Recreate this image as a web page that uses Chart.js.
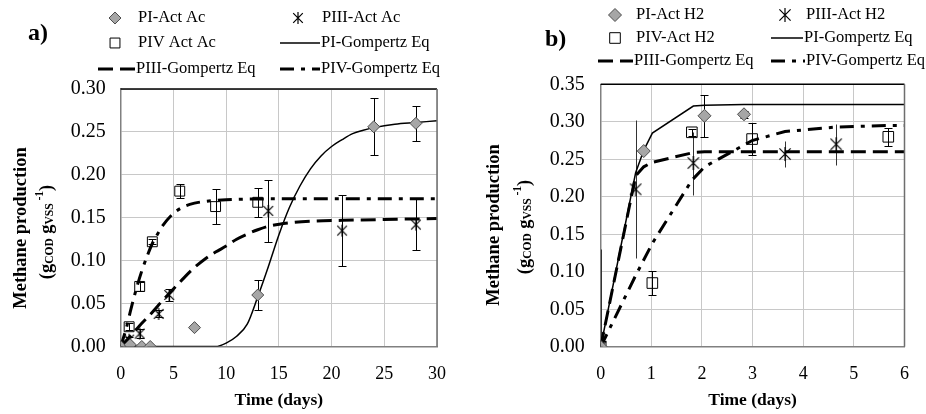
<!DOCTYPE html>
<html>
<head>
<meta charset="utf-8">
<script src="https://cdn.jsdelivr.net/npm/chart.js@4.4.1/dist/chart.umd.min.js"></script>
<style>
  html, body { margin: 0; padding: 0; background: #fff; }
  #wrap { position: relative; width: 926px; height: 414px; }
  canvas { position: absolute; top: 0; }
  #chartA { left: 0; }
  #chartB { left: 463px; }
</style>
</head>
<body>
<div id="wrap">
  <canvas id="chartA" width="463" height="414"></canvas>
  <canvas id="chartB" width="463" height="414"></canvas>
</div>
<script>
// ---- a) acetate ----
var aTicksX = [0, 5, 10, 15, 20, 25, 30];
var aTicksY = [0, 0.05, 0.10, 0.15, 0.20, 0.25, 0.30];

var aPiT = [0, 0.9, 2, 2.8, 7, 13, 24, 28];
var aPiY = [0, 0.002, 0, 0, 0.022, 0.06, 0.256, 0.26];
var aPiErr = [0, 0, 0, 0, 0, 0.018, 0.033, 0.02];

var aPiiiT = [0, 0.8, 1.8, 3.6, 4.6, 14, 21, 28];
var aPiiiY = [0, 0.008, 0.015, 0.038, 0.06, 0.158, 0.135, 0.142];
var aPiiiErr = [0, 0.003, 0.005, 0.004, 0.007, 0.036, 0.041, 0.03];

var aPivT = [0, 0.8, 1.8, 3, 5.6, 9, 13];
var aPivY = [0, 0.023, 0.07, 0.122, 0.181, 0.163, 0.168];
var aPivErr = [0, 0.004, 0.005, 0.003, 0.008, 0.02, 0.017];

// Gompertz curves as drawn
var aFitPiT = [0, 5, 9, 10, 11, 12, 13, 14, 15, 16, 17, 18, 19, 20, 21, 22, 23, 24, 26, 28, 30];
var aFitPiY = [0, 0, 0, 0.004, 0.012, 0.026, 0.058, 0.093, 0.13, 0.162, 0.187, 0.207, 0.222, 0.233, 0.241, 0.248, 0.252, 0.255, 0.259, 0.261, 0.263];
var aFitPiiiT = [0, 1, 2, 3, 4, 5, 6, 7, 8, 9, 10, 11, 12, 13, 14, 16, 18, 21, 25, 30];
var aFitPiiiY = [0, 0.013, 0.027, 0.04, 0.054, 0.067, 0.08, 0.092, 0.102, 0.11, 0.117, 0.125, 0.131, 0.136, 0.14, 0.144, 0.146, 0.147, 0.148, 0.149];
var aFitPivT = [0, 0.5, 1, 1.5, 2, 2.5, 3, 3.5, 4, 5, 6, 7, 8, 10, 15, 30];
var aFitPivY = [0, 0.02, 0.045, 0.068, 0.088, 0.105, 0.12, 0.131, 0.141, 0.155, 0.163, 0.167, 0.169, 0.171, 0.172, 0.172];

// ---- b) hydrogen ----
var bTicksX = [0, 1, 2, 3, 4, 5, 6];
var bTicksY = [0, 0.05, 0.10, 0.15, 0.20, 0.25, 0.30, 0.35];

var bPiT = [0, 0.85, 2.05, 2.83];
var bPiY = [0, 0.261, 0.308, 0.31];
var bPiErr = [0, 0, 0.028, 0.005];

var bPiiiT = [0, 0.69, 1.83, 3.64, 4.65];
var bPiiiY = [0, 0.21, 0.245, 0.257, 0.27];
var bPiiiErr = [0.13, 0.092, 0.042, 0.017, 0.027];

var bPivT = [0, 1.02, 1.8, 2.99, 5.68];
var bPivY = [0, 0.085, 0.286, 0.277, 0.28];
var bPivErr = [0, 0.016, 0.005, 0.021, 0.012];

var bFitPiT = [0, 0.69, 0.85, 1.02, 1.83, 2.05, 2.83, 3.64, 4.65, 5.68, 6];
var bFitPiY = [0, 0.232, 0.262, 0.285, 0.321, 0.322, 0.323, 0.323, 0.323, 0.323, 0.323];
var bFitPiiiT = [0, 0.69, 0.85, 1.02, 1.83, 2.05, 3, 6];
var bFitPiiiY = [0, 0.228, 0.24, 0.246, 0.259, 0.26, 0.26, 0.26];
var bFitPivT = [0, 0.69, 1.02, 1.8, 2.05, 2.99, 3.64, 4.65, 5.68, 6];
var bFitPivY = [0, 0.095, 0.138, 0.222, 0.24, 0.275, 0.287, 0.293, 0.295, 0.295];

var SERIF = "'Liberation Serif', 'Times New Roman', serif";
Chart.defaults.font.family = SERIF;
Chart.defaults.color = '#000';

var zip = function (xs, ys) {
  return xs.map(function (x, i) { return { x: x, y: ys[i] }; });
};

// Excel-like asterisk marker (X with a vertical bar)
var starMarker = function (size) {
  var c = document.createElement('canvas');
  c.width = size; c.height = size;
  var g = c.getContext('2d');
  var m = size / 2, r = size / 2 - 1;
  g.strokeStyle = '#000';
  g.lineWidth = 1.2;
  g.beginPath();
  g.moveTo(m - r * 0.8, m - r * 0.8); g.lineTo(m + r * 0.8, m + r * 0.8);
  g.moveTo(m + r * 0.8, m - r * 0.8); g.lineTo(m - r * 0.8, m + r * 0.8);
  g.moveTo(m, m - r); g.lineTo(m, m + r);
  g.stroke();
  return c;
};

// error bars, drawn under the markers
var errorBars = {
  id: 'errorBars',
  beforeDatasetsDraw: function (chart) {
    var ctx = chart.ctx, xs = chart.scales.x, ys = chart.scales.y, area = chart.chartArea;
    ctx.save();
    ctx.beginPath();
    ctx.rect(area.left, area.top - 2, area.right - area.left, area.bottom - area.top + 2);
    ctx.clip();
    chart.data.datasets.forEach(function (ds) {
      if (!ds.errors) return;
      ctx.strokeStyle = ds.errorColor || '#000';
      ctx.lineWidth = 1;
      ds.data.forEach(function (p, i) {
        var e = ds.errors[i];
        if (!e) return;
        var x = Math.round(xs.getPixelForValue(p.x)) + 0.5;
        var y1 = Math.round(ys.getPixelForValue(p.y + e)) + 0.5;
        var y2 = Math.round(ys.getPixelForValue(p.y - e)) + 0.5;
        var c = ds.errorCap;
        ctx.beginPath();
        ctx.moveTo(x, y1); ctx.lineTo(x, y2);
        if (c) {
          ctx.moveTo(x - c, y1); ctx.lineTo(x + c, y1);
          ctx.moveTo(x - c, y2); ctx.lineTo(x + c, y2);
        }
        ctx.stroke();
      });
    });
    ctx.restore();
  }
};

// black top edge and grey right edge of the plot frame
var plotFrame = {
  id: 'plotFrame',
  afterDatasetsDraw: function (chart) {
    var ctx = chart.ctx, a = chart.chartArea;
    ctx.save();
    ctx.lineWidth = 1.5;
    ctx.strokeStyle = '#000';
    ctx.beginPath(); ctx.moveTo(a.left, a.top); ctx.lineTo(a.right, a.top); ctx.stroke();
    ctx.strokeStyle = '#6e6e6e';
    ctx.beginPath(); ctx.moveTo(a.right, a.top); ctx.lineTo(a.right, a.bottom); ctx.stroke();
    ctx.restore();
  }
};

// legend in two columns, panel letter and the rotated y title with sub/superscripts
var panelText = {
  id: 'panelText',
  afterDraw: function (chart, args, opts) {
    var ctx = chart.ctx;
    ctx.save();
    ctx.fillStyle = '#000';
    ctx.textBaseline = 'middle';
    ctx.textAlign = 'left';

    ctx.font = 'bold 24px ' + SERIF;
    ctx.fillText(opts.letter.text, opts.letter.x, opts.letter.y);

    ctx.font = '16.5px ' + SERIF;
    chart.data.datasets.forEach(function (ds, i) {
      var L = opts.legend[i];
      if (ds.showLine) {
        ctx.save();
        ctx.strokeStyle = ds.borderColor;
        ctx.lineWidth = ds.borderWidth;
        ctx.setLineDash(ds.borderDash || []);
        ctx.beginPath(); ctx.moveTo(L.x1, L.y); ctx.lineTo(L.x2, L.y); ctx.stroke();
        ctx.restore();
      } else {
        ctx.save();
        ctx.fillStyle = ds.backgroundColor;
        ctx.strokeStyle = ds.borderColor;
        ctx.lineWidth = ds.borderWidth;
        Chart.helpers.drawPoint(ctx, { pointStyle: ds.pointStyle, radius: ds.pointRadius, borderWidth: ds.borderWidth, rotation: 0 }, L.x1, L.y);
        ctx.restore();
      }
      ctx.fillText(ds.label, L.tx, L.y);
    });

    // y axis title
    var t = opts.yTitle;
    ctx.save();
    ctx.translate(t.x1, t.y);
    ctx.rotate(-Math.PI / 2);
    ctx.textAlign = 'center';
    ctx.font = 'bold 18.5px ' + SERIF;
    ctx.fillText('Methane production', 0, 0);
    ctx.restore();

    var parts = [
      ['(g', 18.5, 0], ['COD', 11.5, 3], [' g', 18.5, 0], ['VSS', 11.5, 3],
      [' ', 11.5, 0], ['-1', 11.5, -7], [')', 18.5, 0]
    ];
    var total = 0;
    parts.forEach(function (p) {
      ctx.font = 'bold ' + p[1] + 'px ' + SERIF;
      p.push(ctx.measureText(p[0]).width);
      total += p[3];
    });
    ctx.save();
    ctx.translate(t.x2, t.y2);
    ctx.rotate(-Math.PI / 2);
    ctx.textAlign = 'left';
    var cx = -total / 2;
    parts.forEach(function (p) {
      ctx.font = 'bold ' + p[1] + 'px ' + SERIF;
      ctx.fillText(p[0], cx, p[2]);
      cx += p[3];
    });
    ctx.restore();
    ctx.restore();
  }
};

var makePanel = function (id, cfg) {
  var area = cfg.area;
  return new Chart(document.getElementById(id), {
    type: 'scatter',
    data: { datasets: cfg.datasets },
    options: {
      responsive: false,
      animation: false,
      devicePixelRatio: 1,
      layout: { padding: { top: area.top, right: 463 - area.right, left: 0, bottom: 0 } },
      plugins: {
        legend: { display: false },
        tooltip: { enabled: false },
        panelText: { letter: cfg.letter, legend: cfg.legend, yTitle: cfg.yTitle }
      },
      scales: {
        x: {
          type: 'linear',
          min: cfg.ticksX[0],
          max: cfg.ticksX[cfg.ticksX.length - 1],
          afterBuildTicks: function (s) { s.ticks = cfg.ticksX.map(function (v) { return { value: v }; }); },
          afterFit: function (s) { s.height = 414 - area.bottom; },
          ticks: { font: { size: 18 }, color: '#000', padding: 17, maxRotation: 0, autoSkip: false,
            callback: function (v) { return String(v); } },
          grid: { color: '#c8c8c8', drawTicks: false },
          border: { color: '#808080', width: 1.5 },
          title: { display: true, text: 'Time (days)', color: '#000',
            font: { size: 17.5, weight: 'bold' }, padding: { top: 0, bottom: 3 } }
        },
        y: {
          type: 'linear',
          min: cfg.ticksY[0],
          max: cfg.ticksY[cfg.ticksY.length - 1],
          afterBuildTicks: function (s) { s.ticks = cfg.ticksY.map(function (v) { return { value: v }; }); },
          afterFit: function (s) { s.width = area.left; },
          ticks: { font: { size: 20 }, color: '#000', padding: cfg.yPad, autoSkip: false,
            callback: function (v) { return v.toFixed(2); } },
          grid: { color: '#c8c8c8', drawTicks: false },
          border: { color: '#808080', width: 1.5 }
        }
      }
    },
    plugins: [errorBars, plotFrame, panelText]
  });
};

var pointSet = function (label, xs, ys, errs, style) {
  return Object.assign({
    label: label, data: zip(xs, ys), errors: errs, showLine: false,
    borderWidth: 1, pointHoverRadius: 0
  }, style);
};
var curveSet = function (label, xs, ys, width, dash, smooth) {
  return {
    label: label, data: zip(xs, ys), showLine: true, pointRadius: 0, pointHoverRadius: 0,
    borderColor: '#000', backgroundColor: '#000', borderWidth: width, borderDash: dash,
    cubicInterpolationMode: smooth ? 'monotone' : 'default', tension: 0
  };
};

var diamond = function (r) {
  return { pointStyle: 'rectRot', pointRadius: r, backgroundColor: '#a6a6a6', borderColor: '#4d4d4d', errorCap: 4 };
};
var square = function (r) {
  return { pointStyle: 'rect', pointRadius: r, backgroundColor: 'rgba(255,255,255,0)', borderColor: '#000', errorCap: 4 };
};

makePanel('chartA', {
  area: { left: 120.7, right: 440.7, top: 89, bottom: 346.5 },
  ticksX: aTicksX, ticksY: aTicksY, yPad: 15,
  letter: { text: 'a)', x: 28, y: 34 },
  yTitle: { x1: 21, y: 228, x2: 47, y2: 232 },
  legend: [
    { x1: 115, y: 18, tx: 138 },
    { x1: 298, y: 18, tx: 322 },
    { x1: 115, y: 43, tx: 138 },
    { x1: 280, x2: 320, y: 43, tx: 321 },
    { x1: 98, x2: 135, y: 69, tx: 136 },
    { x1: 280, x2: 320, y: 69, tx: 321 }
  ],
  datasets: [
    pointSet('PI-Act Ac', aPiT, aPiY, aPiErr, diamond(6)),
    pointSet('PIII-Act Ac', aPiiiT, aPiiiY, aPiiiErr,
      { pointStyle: starMarker(14), pointRadius: 7, backgroundColor: '#000', borderColor: '#000', errorCap: 4 }),
    pointSet('PIV Act Ac', aPivT, aPivY, aPivErr, square(7)),
    curveSet('PI-Gompertz Eq', aFitPiT, aFitPiY, 1.5, [], true),
    curveSet('PIII-Gompertz Eq', aFitPiiiT, aFitPiiiY, 3, [15, 7], true),
    curveSet('PIV-Gompertz Eq', aFitPivT, aFitPivY, 3, [14, 7, 4, 7], true)
  ]
});

makePanel('chartB', {
  area: { left: 137.7, right: 457.3, top: 84.3, bottom: 346.8 },
  ticksX: bTicksX, ticksY: bTicksY, yPad: 16,
  letter: { text: 'b)', x: 82, y: 40 },
  yTitle: { x1: 31, y: 225, x2: 62, y2: 227 },
  legend: [
    { x1: 152, y: 15, tx: 173 },
    { x1: 322, y: 15, tx: 343 },
    { x1: 152, y: 38, tx: 173 },
    { x1: 308, x2: 340, y: 38, tx: 341 },
    { x1: 135, x2: 170, y: 61, tx: 171 },
    { x1: 308, x2: 342, y: 61, tx: 343 }
  ],
  datasets: [
    pointSet('PI-Act H2', bPiT, bPiY, bPiErr, diamond(6.5)),
    pointSet('PIII-Act H2', bPiiiT, bPiiiY, bPiiiErr,
      { pointStyle: starMarker(16), pointRadius: 8, backgroundColor: '#000', borderColor: '#000', errorCap: 0, errorColor: '#333' }),
    pointSet('PIV-Act H2', bPivT, bPivY, bPivErr, square(7.5)),
    curveSet('PI-Gompertz Eq', bFitPiT, bFitPiY, 1.5, [], false),
    curveSet('PIII-Gompertz Eq', bFitPiiiT, bFitPiiiY, 3, [15, 7], false),
    curveSet('PIV-Gompertz Eq', bFitPivT, bFitPivY, 3, [14, 7, 4, 7], false)
  ]
});
</script>
</body>
</html>
